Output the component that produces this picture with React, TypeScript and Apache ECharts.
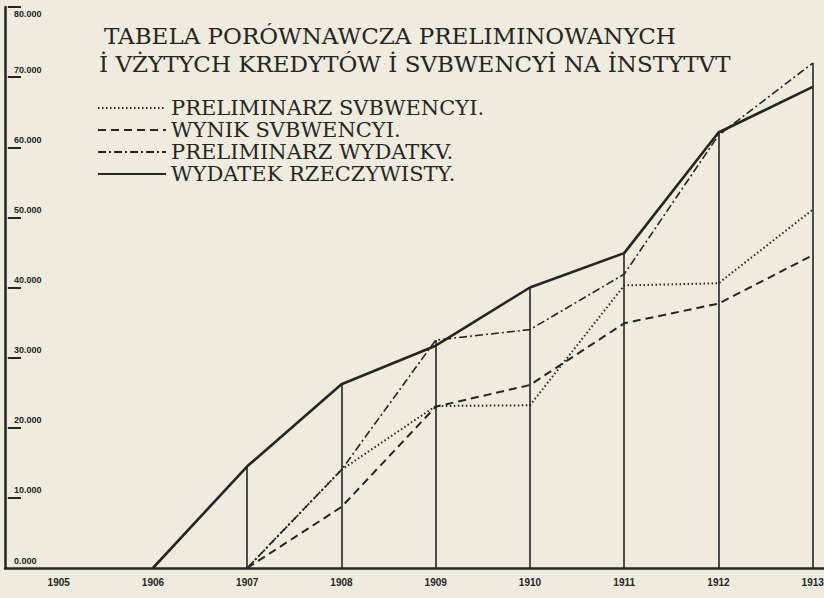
import React, { useEffect, useRef } from "react";
import * as echarts from "echarts";

const years = [1906, 1907, 1908, 1909, 1910, 1911, 1912, 1913];
const axisYears = [1905, 1906, 1907, 1908, 1909, 1910, 1911, 1912, 1913];
const dropYears = [1907, 1908, 1909, 1910, 1911, 1912, 1913];
const yTicks = [10000, 20000, 30000, 40000, 50000, 60000, 70000, 80000];

const preliminarzSubwencji = [null, 0, 14000, 23100, 23200, 40300, 40600, 51100];
const wynikSubwencji = [null, 0, 8700, 23000, 26100, 34900, 37700, 44600];
const preliminarzWydatku = [null, 0, 14000, 32500, 34000, 41900, 61700, 72000];
const wydatekRzeczywisty = [0, 14500, 26200, 31700, 40000, 44900, 62100, 68600];

const seriesNames = [
  "PRELIMINARZ SVBWENCYI.",
  "WYNIK SVBWENCYI.",
  "PRELIMINARZ WYDATKV.",
  "WYDATEK RZECZYWISTY.",
];
const titleLines = [
  "TABELA PORÓWNAWCZA PRELIMINOWANYCH",
  "İ VŻYTYCH KREDYTÓW İ SVBWENCYİ NA İNSTYTVT",
];

const X_MIN = 1904.43;
const X_MAX = 1913.12;
const TICK_START = 1904.46;
const TICK_END = 1904.6;
const INK = "#262522";
const PAPER = "#efecdf";

const toPairs = (vals: (number | null)[]) =>
  years.map((y, i) => [y, vals[i]]).filter((p) => p[1] !== null);

export default function App() {
  const ref = useRef<HTMLDivElement>(null);
  useEffect(() => {
    if (!ref.current) return;
    const chart = echarts.init(ref.current, undefined, { renderer: "svg" });
    const all = [preliminarzSubwencji, wynikSubwencji, preliminarzWydatku, wydatekRzeczywisty];
    const maxAt = (y: number) => {
      const i = years.indexOf(y);
      return Math.max(...all.map((a) => (a[i] == null ? 0 : (a[i] as number))));
    };
    const fmt = (v: number) => (v === 0 ? "0.000" : `${v / 1000}.000`);
    const font = "DejaVu Serif";
    const axisFont = "Liberation Sans";
    const common = { type: "line", symbol: "none", showSymbol: false, silent: true };
    const dropLines = dropYears.map((y) => [{ coord: [y, 0] }, { coord: [y, maxAt(y)] }]);
    const tickLines = yTicks.map((v) => [
      { coord: [TICK_START, v] },
      { coord: [TICK_END, v] },
    ]);
    chart.setOption({
      animation: false,
      backgroundColor: PAPER,
      title: [
        {
          text: titleLines[0],
          left: 104,
          top: 24,
          padding: 0,
          textStyle: { fontFamily: font, fontSize: 23, fontWeight: "normal", color: INK },
        },
        {
          text: titleLines[1],
          left: 99,
          top: 52,
          padding: 0,
          textStyle: { fontFamily: font, fontSize: 23, fontWeight: "normal", color: INK },
        },
      ],
      legend: {
        orient: "vertical",
        left: 97,
        top: 97,
        padding: 0,
        itemWidth: 68,
        itemHeight: 12,
        itemGap: 0,
        data: seriesNames,
        itemStyle: { opacity: 0 },
        textStyle: {
          fontFamily: font,
          fontSize: 21,
          lineHeight: 14,
          color: INK,
          padding: [0, 0, 8, 0],
        },
      },
      grid: { left: 5, right: 0, top: 7, bottom: 30, containLabel: false, outerBoundsMode: "none" },
      xAxis: {
        type: "value",
        min: X_MIN,
        max: X_MAX,
        splitLine: { show: false },
        axisLine: { lineStyle: { color: INK, width: 2.5 } },
        axisTick: { show: false },
        axisLabel: {
          customValues: axisYears,
          margin: 9,
          color: INK,
          fontFamily: axisFont,
          fontSize: 10,
          fontWeight: "bold",
          formatter: (v: number) => String(v),
        },
      },
      yAxis: [
        {
          type: "value",
          min: 0,
          max: 80000,
          interval: 10000,
          splitLine: { show: false },
          axisLine: { show: true, lineStyle: { color: INK, width: 2.5 } },
          axisTick: { show: false },
          axisLabel: {
            inside: true,
            margin: 9,
            verticalAlign: "bottom",
            padding: [0, 0, 3, 0],
            color: INK,
            fontFamily: axisFont,
            fontSize: 9,
            fontWeight: "bold",
            showMaxLabel: false,
            formatter: (v: number) => (v === 80000 ? "" : fmt(v)),
          },
        },
        {
          type: "value",
          min: 0,
          max: 80000,
          interval: 10000,
          position: "left",
          splitLine: { show: false },
          axisLine: { show: false },
          axisTick: { show: false },
          axisLabel: {
            inside: true,
            margin: 9,
            verticalAlign: "top",
            padding: [2, 0, 0, 0],
            color: INK,
            fontFamily: axisFont,
            fontSize: 9,
            fontWeight: "bold",
            formatter: (v: number) => (v === 80000 ? fmt(v) : ""),
          },
        },
      ],
      series: [
        {
          ...common,
          name: seriesNames[0],
          data: toPairs(preliminarzSubwencji),
          lineStyle: { color: INK, width: 2, type: [1.5, 2.5] },
          itemStyle: { color: INK },
        },
        {
          ...common,
          name: seriesNames[1],
          data: toPairs(wynikSubwencji),
          lineStyle: { color: INK, width: 2, type: [8, 5] },
          itemStyle: { color: INK },
        },
        {
          ...common,
          name: seriesNames[2],
          data: toPairs(preliminarzWydatku),
          lineStyle: { color: INK, width: 1.6, type: [8, 3, 2, 3] },
          itemStyle: { color: INK },
        },
        {
          ...common,
          name: seriesNames[3],
          data: toPairs(wydatekRzeczywisty),
          lineStyle: { color: INK, width: 2.6, type: "solid" },
          itemStyle: { color: INK },
          markLine: {
            silent: true,
            symbol: "none",
            label: { show: false },
            lineStyle: { color: INK, width: 1.6, type: "solid" },
            data: dropLines,
          },
        },
        {
          type: "line",
          name: "ticks",
          data: [],
          silent: true,
          symbol: "none",
          z: 10,
          markLine: {
            silent: true,
            symbol: "none",
            label: { show: false },
            lineStyle: { color: INK, width: 2, type: "solid" },
            data: tickLines,
          },
        },
      ],
    });
    return () => chart.dispose();
  }, []);
  return (
    <div
      ref={ref}
      style={{ position: "fixed", left: 0, top: 0, width: 824, height: 598, background: PAPER }}
    />
  );
}
